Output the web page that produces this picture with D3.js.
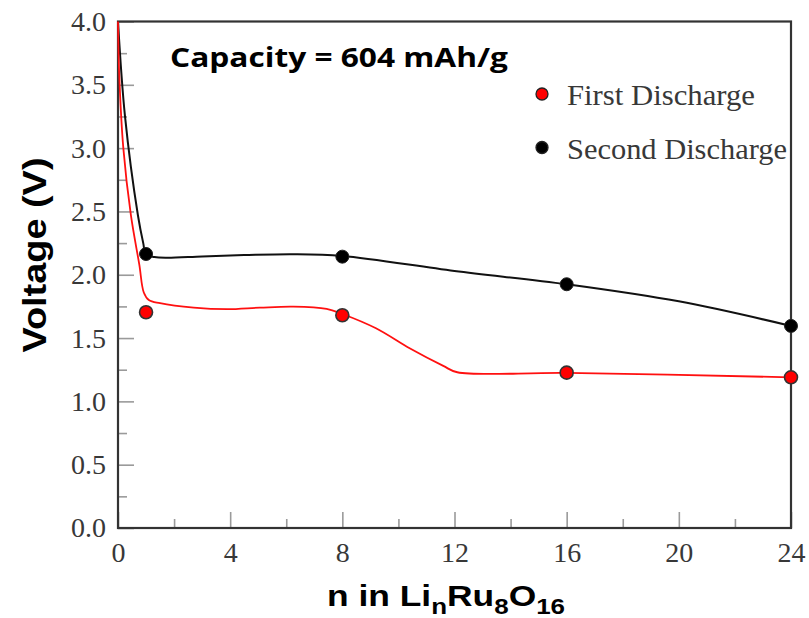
<!DOCTYPE html>
<html>
<head>
<meta charset="utf-8">
<script src="https://cdn.jsdelivr.net/npm/d3@7"></script>
<style>
  html, body { margin: 0; padding: 0; background: #fff; }
  svg { display: block; }
</style>
</head>
<body>
<svg id="chart" width="809" height="618"></svg>
<script>
// ---- data ----
const nValues = [1, 8, 16, 24];
const firstDischarge = [1.704, 1.680, 1.227, 1.190];
const secondDischarge = [2.164, 2.143, 1.925, 1.596];

// fitted curves: [n, V]
const firstCurveN = [0, 0.04, 0.19, 0.46, 0.76, 0.92, 1.1, 1.5, 2.7, 3.9, 5.06, 6.25, 7.44, 8.0, 9.2, 10.4, 11.6, 12.1, 16, 24];
const firstCurveV = [4.0, 3.6, 3.0, 2.47, 2.08, 1.86, 1.80, 1.775, 1.74, 1.728, 1.74, 1.748, 1.73, 1.69, 1.577, 1.419, 1.28, 1.23, 1.225, 1.19];
const secondCurveN = [0, 0.25, 0.71, 0.9, 1.0, 1.3, 1.75, 3.0, 4.5, 6.25, 8.0, 12, 16, 20, 24];
const secondCurveV = [4.0, 3.25, 2.47, 2.25, 2.16, 2.14, 2.135, 2.145, 2.155, 2.162, 2.148, 2.03, 1.925, 1.79, 1.596];

const xMajorTicks = [0, 4, 8, 12, 16, 20, 24];
const xMinorTicks = [2, 6, 10, 14, 18, 22];
const yMajorTicks = [0, 0.5, 1.0, 1.5, 2.0, 2.5, 3.0, 3.5, 4.0];
const yMinorTicks = [0.25, 0.75, 1.25, 1.75, 2.25, 2.75, 3.25, 3.75];

const legendLabels = ["First Discharge", "Second Discharge"];
const annotation = "Capacity = 604 mAh/g";

// ---- layout ----
const L = 118, R = 791, T = 21.5, B = 528;
const svg = d3.select("#chart");
const x = d3.scaleLinear().domain([0, 24]).range([L, R]);
const y = d3.scaleLinear().domain([0, 4]).range([B, T]);

const tickColor = "#9a9a9a";
const labelColor = "#383838";
const serif = "'Liberation Serif', 'Times New Roman', serif";
const sans = "'Liberation Sans', Arial, sans-serif";

// minor ticks
const gxMinor = svg.append("g").attr("transform", `translate(0,${B})`)
  .call(d3.axisBottom(x).tickValues(xMinorTicks).tickSize(-9).tickFormat(""));
const gyMinor = svg.append("g").attr("transform", `translate(${L},0)`)
  .call(d3.axisLeft(y).tickValues(yMinorTicks).tickSize(-9).tickFormat(""));

// major ticks
const gx = svg.append("g").attr("transform", `translate(0,${B})`)
  .call(d3.axisBottom(x).tickValues(xMajorTicks).tickSize(-16).tickPadding(14).tickFormat(d3.format("d")));
const gy = svg.append("g").attr("transform", `translate(${L},0)`)
  .call(d3.axisLeft(y).tickValues(yMajorTicks).tickSize(-16).tickPadding(12).tickFormat(d3.format(".1f")));

[gxMinor, gyMinor, gx, gy].forEach(g => {
  g.select(".domain").remove();
  g.selectAll(".tick line").attr("stroke", tickColor).attr("stroke-width", 1.6);
  g.selectAll(".tick text").attr("fill", labelColor).style("font-family", serif).style("font-size", "28px");
});

// frame
svg.append("rect")
  .attr("x", L).attr("y", T).attr("width", R - L).attr("height", B - T)
  .attr("fill", "none").attr("stroke", "#333").attr("stroke-width", 2.2);

// curves
const line = d3.line().x(d => x(d[0])).y(d => y(d[1])).curve(d3.curveCatmullRom.alpha(0.5));
svg.append("path")
  .datum(secondCurveN.map((n, i) => [n, secondCurveV[i]]))
  .attr("d", line).attr("fill", "none").attr("stroke", "#111").attr("stroke-width", 2);
svg.append("path")
  .datum(firstCurveN.map((n, i) => [n, firstCurveV[i]]))
  .attr("d", line).attr("fill", "none").attr("stroke", "#ff1010").attr("stroke-width", 1.8);

// markers
svg.append("g").selectAll("circle").data(nValues).join("circle")
  .attr("cx", d => x(d)).attr("cy", (d, i) => y(secondDischarge[i])).attr("r", 6.5)
  .attr("fill", "#000").attr("stroke", "#222").attr("stroke-width", 1);
svg.append("g").selectAll("circle").data(nValues).join("circle")
  .attr("cx", d => x(d)).attr("cy", (d, i) => y(firstDischarge[i])).attr("r", 6.5)
  .attr("fill", "#ff0000").attr("stroke", "#333").attr("stroke-width", 1.6);

// legend
const legendColors = ["#ff0000", "#000"];
const legendY = [94, 147.5];
const legendTextLen = [188, 220];
legendLabels.forEach((lab, i) => {
  svg.append("circle").attr("cx", 542).attr("cy", legendY[i]).attr("r", 6)
    .attr("fill", legendColors[i]).attr("stroke", "#222").attr("stroke-width", 1.3);
  svg.append("text").attr("x", 567).attr("y", legendY[i] + 11)
    .attr("textLength", legendTextLen[i]).attr("lengthAdjust", "spacingAndGlyphs")
    .style("font-family", serif).style("font-size", "30px").attr("fill", labelColor)
    .text(lab);
});

// annotation
svg.append("text").attr("x", 170).attr("y", 67)
  .attr("textLength", 338).attr("lengthAdjust", "spacingAndGlyphs")
  .style("font-family", "'Open Sans', sans-serif").style("font-weight", "bold").style("font-size", "26px")
  .attr("fill", "#000").text(annotation);

// y title
svg.append("text")
  .attr("transform", "translate(46,255) rotate(-90)")
  .attr("text-anchor", "middle")
  .attr("textLength", 195).attr("lengthAdjust", "spacingAndGlyphs")
  .style("font-family", sans).style("font-weight", "bold").style("font-size", "34px")
  .attr("fill", "#000").text("Voltage (V)");

// x title with subscripts
const xt = svg.append("g").attr("transform", "translate(327,606) scale(1.18,1)")
  .append("text")
  .style("font-family", sans).style("font-weight", "bold").style("font-size", "30px").attr("fill", "#000");
xt.append("tspan").text("n in Li");
xt.append("tspan").attr("dy", 8).style("font-size", "22px").text("n");
xt.append("tspan").attr("dy", -8).text("Ru");
xt.append("tspan").attr("dy", 8).style("font-size", "22px").text("8");
xt.append("tspan").attr("dy", -8).text("O");
xt.append("tspan").attr("dy", 8).style("font-size", "22px").text("16");
</script>
</body>
</html>
